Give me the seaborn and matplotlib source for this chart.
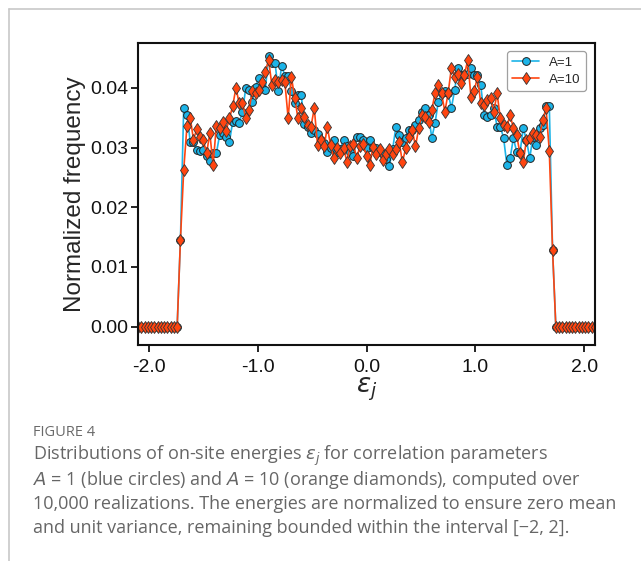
import numpy as np
import pandas as pd
import matplotlib
matplotlib.use("Agg")
import matplotlib.pyplot as plt
import seaborn as sns
from matplotlib.lines import Line2D
from matplotlib.ticker import FormatStrFormatter

# ---------------- data ----------------
n_points = 141
energy_min, energy_max = -2.1, 2.1

a1_core = [  # A=1, starting at bin 13
    0.0145,
    0.0367, 0.0355, 0.0310, 0.0310, 0.0296, 0.0294, 0.0296, 0.0286, 0.0278, 0.0290,
    0.0290, 0.0321, 0.0324, 0.0318, 0.0309, 0.0343, 0.0345, 0.0341, 0.0360, 0.0399,
    0.0397, 0.0377, 0.0402, 0.0416, 0.0400, 0.0396, 0.0454, 0.0441, 0.0441, 0.0394,
    0.0437, 0.0420, 0.0420, 0.0394, 0.0374, 0.0388, 0.0388, 0.0340, 0.0335, 0.0324,
    0.0330, 0.0322, 0.0313, 0.0308, 0.0293, 0.0300, 0.0313, 0.0293, 0.0298, 0.0313,
    0.0302, 0.0293, 0.0285, 0.0318, 0.0318, 0.0313, 0.0299, 0.0313, 0.0299, 0.0299,
    0.0293, 0.0289, 0.0280, 0.0269, 0.0297, 0.0334, 0.0321, 0.0310, 0.0316, 0.0330,
    0.0330, 0.0338, 0.0346, 0.0360, 0.0366, 0.0355, 0.0316, 0.0341, 0.0377, 0.0391,
    0.0394, 0.0391, 0.0366, 0.0396, 0.0433, 0.0422, 0.0421, 0.0424, 0.0433, 0.0422,
    0.0422, 0.0405, 0.0355, 0.0352, 0.0355, 0.0366, 0.0335, 0.0335, 0.0316, 0.0271,
    0.0282, 0.0316, 0.0293, 0.0290, 0.0332, 0.0313, 0.0282, 0.0318, 0.0304, 0.0332,
    0.0338, 0.0370, 0.0370,
    0.0128,
]
a10_core = [  # A=10, starting at bin 13
    0.0145, 0.0262, 0.0336, 0.0350, 0.0313, 0.0331, 0.0318, 0.0313, 0.0290, 0.0324,
    0.0271, 0.0336, 0.0332, 0.0342, 0.0328, 0.0349, 0.0369, 0.0400, 0.0374, 0.0375,
    0.0349, 0.0363, 0.0394, 0.0391, 0.0396, 0.0410, 0.0427, 0.0447, 0.0405, 0.0413,
    0.0409, 0.0413, 0.0409, 0.0349, 0.0418, 0.0383, 0.0349, 0.0366, 0.0352, 0.0338,
    0.0335, 0.0366, 0.0304, 0.0313, 0.0302, 0.0334, 0.0304, 0.0282, 0.0299, 0.0290,
    0.0299, 0.0276, 0.0303, 0.0306, 0.0282, 0.0303, 0.0306, 0.0285, 0.0271, 0.0301,
    0.0289, 0.0297, 0.0279, 0.0289, 0.0297, 0.0289, 0.0297, 0.0310, 0.0275, 0.0299,
    0.0318, 0.0330, 0.0302, 0.0332, 0.0355, 0.0352, 0.0343, 0.0363, 0.0391, 0.0405,
    0.0391, 0.0360, 0.0391, 0.0433, 0.0419, 0.0424, 0.0408, 0.0422, 0.0446, 0.0385,
    0.0394, 0.0419, 0.0374, 0.0371, 0.0380, 0.0383, 0.0360, 0.0391, 0.0349, 0.0338,
    0.0335, 0.0355, 0.0332, 0.0321, 0.0290, 0.0275, 0.0313, 0.0316, 0.0324, 0.0321,
    0.0318, 0.0346, 0.0366, 0.0294, 0.0128,
]
a1_start, a10_start = 13, 13
freq_a1 = [0.0] * a1_start + a1_core + [0.0] * (n_points - a1_start - len(a1_core))
freq_a10 = [0.0] * a10_start + a10_core + [0.0] * (n_points - a10_start - len(a10_core))
energy = np.round(np.linspace(energy_min, energy_max, n_points), 4)

series_labels = ["A=1", "A=10"]
x_ticks = [-2.0, -1.0, 0.0, 1.0, 2.0]
y_ticks = [0.00, 0.01, 0.02, 0.03, 0.04]

caption_title = "FIGURE 4"
caption_lines = [
    r"Distributions of on-site energies $\varepsilon_j$ for correlation parameters",
    r"$A$ = 1 (blue circles) and $A$ = 10 (orange diamonds), computed over",
    "10,000 realizations. The energies are normalized to ensure zero mean",
    "and unit variance, remaining bounded within the interval [\u22122, 2].",
]

df = pd.DataFrame({"energy": energy, "A=1": freq_a1, "A=10": freq_a10})

# ---------------- style ----------------
sns.set_theme(style="ticks")
plt.rcParams["font.family"] = ["Liberation Sans", "DejaVu Sans"]
plt.rcParams["axes.unicode_minus"] = False

W, H = 641, 561
fig = plt.figure(figsize=(W / 100, H / 100), dpi=100)
ax = fig.add_axes([138 / W, 1 - 345 / H, (595 - 138) / W, (345 - 43.3) / H])

blue = "#1cb4e8"
red = "#ff4510"
sns.lineplot(data=df, x="energy", y="A=1", ax=ax, color=blue, lw=1.2,
             marker="o", markersize=5.6, markerfacecolor=blue,
             markeredgecolor="#222222", markeredgewidth=0.7, label=series_labels[0],
             sort=False, estimator=None)
sns.lineplot(data=df, x="energy", y="A=10", ax=ax, color=red, lw=1.2,
             marker="d", markersize=6.0, markerfacecolor=red,
             markeredgecolor="#333333", markeredgewidth=0.6, label=series_labels[1],
             sort=False, estimator=None)

ax.set_xlim(energy_min, energy_max)
ax.set_ylim(-0.0031, 0.04747)
ax.set_xticks(x_ticks)
ax.set_yticks(y_ticks)
ax.xaxis.set_major_formatter(FormatStrFormatter("%.1f"))
ax.yaxis.set_major_formatter(FormatStrFormatter("%.2f"))
ax.tick_params(axis="both", direction="out", length=5, width=1.2, labelsize=14,
               color="black", labelcolor="#111111", pad=2)
ax.tick_params(axis="x", pad=5)
for s in ax.spines.values():
    s.set_linewidth(1.5)
    s.set_color("#111111")
ax.set_xlabel(r"$\varepsilon_j$", fontsize=19, labelpad=0)
ax.set_ylabel("Normalized frequency", fontsize=17.5, labelpad=3)

leg = ax.legend(loc="upper right", fontsize=9.5, frameon=True, fancybox=True,
                borderpad=0.4, handlelength=2.0, labelspacing=0.35,
                handletextpad=0.8, bbox_to_anchor=(0.995, 0.995))
leg.get_frame().set_edgecolor("#888888")
leg.get_frame().set_linewidth(0.9)

# ---------------- frame and caption ----------------
border = "#c8c8c8"
fig.add_artist(Line2D([9 / W, 1.0], [1 - 9 / H, 1 - 9 / H], color=border, lw=1.2,
                      transform=fig.transFigure))
fig.add_artist(Line2D([9 / W, 9 / W], [0.0, 1 - 9 / H], color=border, lw=1.2,
                      transform=fig.transFigure))

cap_family = ["Open Sans", "DejaVu Sans"]
fig.text(33 / W, 1 - 433 / H, caption_title, fontsize=10.5, color="#6a6a6a",
         family=cap_family, va="center", ha="left")
for i, line in enumerate(caption_lines):
    fig.text(33 / W, 1 - (456 + 24 * i) / H, line, fontsize=13, color="#666666",
             family=cap_family, va="center", ha="left")

fig.savefig("out.png", dpi=100)
